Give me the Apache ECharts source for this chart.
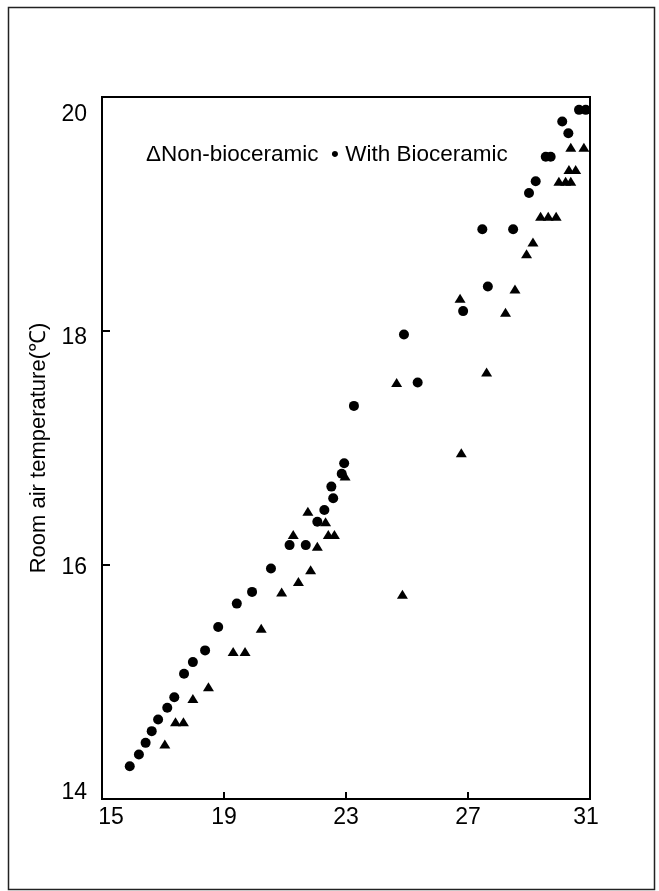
<!DOCTYPE html>
<html>
<head>
<meta charset="utf-8">
<script src="https://cdn.jsdelivr.net/npm/echarts@6/dist/echarts.min.js"></script>
<style>
  html, body { margin: 0; padding: 0; background: #fff; }
  #chart { width: 659px; height: 891px; }
</style>
</head>
<body>
<div id="chart"></div>
<script>
// Data
const xTicks = [15, 19, 23, 27, 31];
const yTicks = [14, 16, 18, 20];

// With Bioceramic (filled circles)
const bioX = [15.91, 16.21, 16.43, 16.63, 16.84, 17.14, 17.37, 17.69, 17.98, 18.38,
              18.81, 19.42, 19.92, 20.54, 21.15, 21.68, 22.06, 22.29, 22.58, 22.52,
              22.86, 22.94, 23.26, 24.90, 25.35, 26.84, 27.65, 27.47, 28.48, 29.00,
              29.22, 29.55, 29.71, 30.09, 30.29, 30.64, 30.86];
const bioY = [14.28, 14.38, 14.48, 14.58, 14.68, 14.78, 14.87, 15.07, 15.17, 15.27,
              15.47, 15.67, 15.77, 15.97, 16.17, 16.17, 16.37, 16.47, 16.57, 16.67,
              16.78, 16.87, 17.36, 17.97, 17.56, 18.17, 18.38, 18.87, 18.87, 19.18,
              19.28, 19.49, 19.49, 19.79, 19.69, 19.89, 19.89];

// Non-bioceramic (filled triangles)
const nonX = [17.06, 17.41, 17.67, 17.98, 18.49, 19.30, 19.69, 20.22, 20.89, 21.44,
              21.84, 21.27, 21.75, 22.06, 22.33, 22.42, 22.62, 22.97, 24.85, 24.66,
              26.78, 27.61, 26.74, 28.23, 28.54, 28.92, 29.13, 29.38, 29.63, 29.89,
              29.98, 30.20, 30.37, 30.31, 30.53, 30.37, 30.80];
const nonY = [14.47, 14.66, 14.66, 14.86, 14.96, 15.26, 15.26, 15.46, 15.77, 15.86,
              15.96, 16.26, 16.46, 16.16, 16.37, 16.26, 16.26, 16.76, 15.75, 17.56,
              16.96, 17.65, 18.28, 18.16, 18.36, 18.66, 18.76, 18.98, 18.98, 18.98,
              19.28, 19.28, 19.28, 19.38, 19.38, 19.57, 19.57];

const legendText = 'ΔNon-bioceramic  • With Bioceramic';
const yTitle = 'Room air temperature(℃)';

const zip = (xs, ys) => xs.map((x, i) => [x, ys[i]]);

const chart = echarts.init(document.getElementById('chart'), null, { renderer: 'canvas' });
const font = 'Liberation Sans, Arial, Helvetica, sans-serif';
const ink = '#000';

// per-label nudges (label placement as printed in the original)
const yLabelStyle = {
  l14: { padding: [0, 0, 12, 0] },
  l16: { padding: [6, 0, 0, 0] },
  l18: { padding: [14, 0, 0, 0] },
  l20: { padding: [36, 0, 0, 0] }
};
const xLabelStyle = {
  l15: { padding: [0, 0, 0, 18] },
  l31: { padding: [0, 8, 0, 0] }
};

chart.setOption({
  backgroundColor: '#fff',
  animation: false,
  title: {
    text: legendText,
    left: 146,
    top: 143,
    padding: 0,
    textStyle: { fontFamily: font, fontSize: 22.5, fontWeight: 'normal', color: ink }
  },
  grid: {
    left: 102, width: 488, top: 97, height: 702,
    show: true, borderColor: ink, borderWidth: 2, backgroundColor: 'transparent'
  },
  xAxis: {
    type: 'value', min: 15, max: 31,
    axisLine: { show: true, lineStyle: { color: ink, width: 2 } },
    axisTick: { show: true, inside: true, length: 7, lineStyle: { color: ink, width: 2 },
                customValues: xTicks },
    axisLabel: {
      customValues: xTicks, fontFamily: font, fontSize: 23, color: ink, margin: 7,
      formatter: v => (xLabelStyle['l' + v] ? '{l' + v + '|' + v + '}' : String(v)),
      rich: xLabelStyle
    },
    splitLine: { show: false }
  },
  yAxis: {
    type: 'value', min: 14, max: 20, interval: 2,
    name: yTitle, nameLocation: 'middle', nameGap: 52,
    nameTextStyle: { fontFamily: font, fontSize: 22, color: ink },
    axisLine: { show: true, lineStyle: { color: ink, width: 2 } },
    axisTick: { show: true, inside: true, length: 8, lineStyle: { color: ink, width: 2 },
                customValues: yTicks },
    axisLabel: {
      customValues: yTicks, fontFamily: font, fontSize: 23, color: ink, margin: 15,
      formatter: v => '{l' + v + '|' + v + '}',
      rich: yLabelStyle
    },
    splitLine: { show: false }
  },
  graphic: [{
    type: 'rect', left: 6, top: 5, silent: true,
    shape: { width: 646, height: 882 },
    style: { fill: 'none', stroke: '#222', lineWidth: 1.5 }
  }],
  series: [
    {
      name: 'Non-bioceramic', type: 'scatter', symbol: 'triangle', symbolSize: [11, 9],
      itemStyle: { color: ink, opacity: 1 }, data: zip(nonX, nonY)
    },
    {
      name: 'With Bioceramic', type: 'scatter', symbol: 'circle', symbolSize: 10,
      itemStyle: { color: ink, opacity: 1 }, data: zip(bioX, bioY)
    }
  ]
});
</script>
</body>
</html>
